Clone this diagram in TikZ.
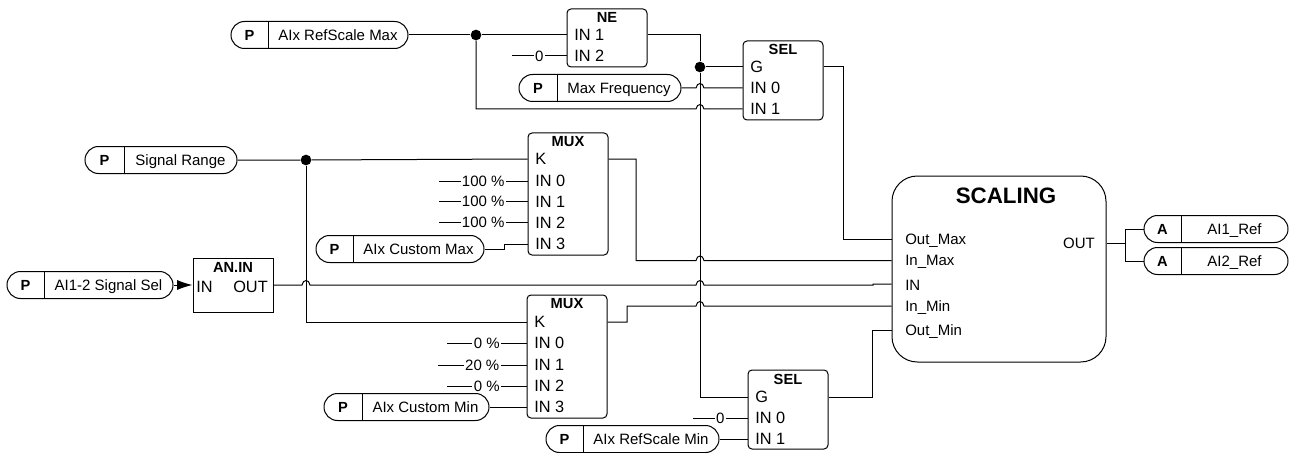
\documentclass[tikz,border=0pt]{standalone}
\usepackage{fontspec}
\setmainfont{Liberation Sans}
\usetikzlibrary{arrows.meta,shapes.misc}
\tikzset{
    wire/.style={line width=0.75pt},
    blockbox/.style={draw, line width=0.75pt, rounded corners=3pt, inner sep=0pt, minimum width=60pt},
    scalebox/.style={draw, line width=0.75pt, rounded corners=19pt, inner sep=0pt},
    pillbox/.style={draw, line width=0.75pt, rounded rectangle, inner sep=0pt, minimum height=20.25pt},
    porttext/.style={inner sep=0pt, text height=8pt, text depth=0pt},
    blockport/.style={inner sep=0pt, anchor=west, font=\fontsize{12.25}{14}\selectfont, text height=8.8pt, text depth=0pt},
    titletext/.style={porttext, font=\fontsize{11}{13}\selectfont\bfseries},
    consttext/.style={inner sep=1pt, fill=white, text height=8pt, text depth=0pt},
    junction/.style={circle, fill=black, inner sep=0pt, minimum size=8pt}
}
\newcommand{\hop}[2]{-- (#1-4,#2) .. controls (#1-3,#2-6) and (#1+3,#2-6) .. (#1+4,#2)}
\newcommand{\parambox}[7]{
    \node [pillbox, minimum width=(#4-#2)*0.75pt] (#1) at ({(#2+#4)/2},#5) {};
    \draw [wire] (#3,#5-13.5) -- (#3,#5+13.5);
    \node [titletext] (#1kind) at ({(#2+#3)/2},#5) {#6};
    \node [porttext] (#1text) at ({(#3+#4)/2},#5) {#7};
}
\begin{document}
\begin{tikzpicture}[x=0.75pt, y=-0.75pt, font=\fontsize{11.25}{13.5}\selectfont]
    \useasboundingbox (0,0) rectangle (1293,453);

    % parameters
    \parambox{refmax}{231}{268}{408}{35}{P}{AIx RefScale Max}
    \parambox{maxfreq}{519}{557}{681}{88}{P}{Max Frequency}
    \parambox{sigrange}{85}{124}{237}{160}{P}{Signal Range}
    \parambox{sigsel}{7}{44}{173}{285}{P}{AI1-2 Signal Sel}
    \parambox{custmax}{316}{353}{484}{249}{P}{AIx Custom Max}
    \parambox{custmin}{324}{362}{489}{407}{P}{AIx Custom Min}
    \parambox{refmin}{546}{583}{719}{439}{P}{AIx RefScale Min}
    \parambox{ref1}{1144}{1181}{1288}{229}{A}{AI1\_Ref}
    \parambox{ref2}{1144}{1181}{1288}{261}{A}{AI2\_Ref}

    % blocks
    \node [blockbox, minimum height=43.5pt] (ne) at (607,38) {};
    \node [titletext] (netitle) at (607,17) {NE};
    \node [blockport] (nein1) at (574,35) {IN 1};
    \node [blockport] (nein2) at (574,56) {IN 2};

    \node [blockbox, minimum height=59.25pt] (sela) at (783,80.5) {};
    \node [titletext] (selatitle) at (783,49) {SEL};
    \node [blockport] (selag) at (750,67) {G};
    \node [blockport] (selain0) at (750,88) {IN 0};
    \node [blockport] (selain1) at (750,109) {IN 1};

    \node [blockbox, minimum height=91.5pt] (muxa) at (568,194) {};
    \node [titletext] (muxatitle) at (568,141) {MUX};
    \node [blockport] (muxak) at (535,159) {K};
    \node [blockport] (muxain0) at (535,181) {IN 0};
    \node [blockport] (muxain1) at (535,201.5) {IN 1};
    \node [blockport] (muxain2) at (535,222.5) {IN 2};
    \node [blockport] (muxain3) at (535,244) {IN 3};

    \node [blockbox, minimum height=92.25pt] (muxb) at (567,356.5) {};
    \node [titletext] (muxbtitle) at (567,303) {MUX};
    \node [blockport] (muxbk) at (534,322) {K};
    \node [blockport] (muxbin0) at (534,343) {IN 0};
    \node [blockport] (muxbin1) at (534,365) {IN 1};
    \node [blockport] (muxbin2) at (534,386) {IN 2};
    \node [blockport] (muxbin3) at (534,407) {IN 3};

    \node [blockbox, minimum height=59.25pt] (selb) at (788,409.5) {};
    \node [titletext] (selbtitle) at (788,379) {SEL};
    \node [blockport] (selbg) at (755,397) {G};
    \node [blockport] (selbin0) at (755,418) {IN 0};
    \node [blockport] (selbin1) at (755,439) {IN 1};

    \node [blockbox, rounded corners=0pt, minimum height=40.5pt] (anin) at (233,285) {};
    \node [titletext] (anintitle) at (233,267) {AN.IN};
    \node [blockport] (aninin) at (196,287) {IN};
    \node [blockport, anchor=east] (aninout) at (268,287) {OUT};

    \node [scalebox, minimum width=160.5pt, minimum height=139.5pt] (scaling) at (999,269) {};
    \node [titletext, font=\fontsize{16.75}{20}\selectfont\bfseries, text height=12pt] (scalingtitle) at (1006,195) {SCALING};
    \node [porttext, anchor=west] (outmax) at (905,239) {Out\_Max};
    \node [porttext, anchor=west] (inmax) at (905,260.5) {In\_Max};
    \node [porttext, anchor=west] (scalein) at (905,285) {IN};
    \node [porttext, anchor=west] (inmin) at (905,306) {In\_Min};
    \node [porttext, anchor=west] (outmin) at (905,330) {Out\_Min};
    \node [porttext, anchor=east] (scaleout) at (1095,243) {OUT};

    % junctions and free ends
    \node [junction] (refdot) at (476,35) {};
    \node [junction] (gdot) at (700,67) {};
    \node [junction] (sigdot) at (306,160) {};
    \coordinate (nezero) at (512,56);
    \coordinate (muxa0) at (439,181);
    \coordinate (muxa1) at (439,201.5);
    \coordinate (muxa2) at (439,222.5);
    \coordinate (muxb0) at (447,343);
    \coordinate (muxb1) at (438,365);
    \coordinate (muxb2) at (447,386);
    \coordinate (selzero) at (693,418);

    % top part
    \draw [wire] (refmax.east) -- (refdot) -- (ne.west |- nein1);
    \draw [wire] (refdot) -- (refdot |- selain1) \hop{700}{109} -- (sela.west |- selain1);
    \draw [wire] (nezero) -- node [consttext] {0} (ne.west |- nein2);
    \draw [wire] (ne.east |- nein1) -- (gdot |- nein1) -- (gdot) -- (gdot |- selbg) -- (selb.west |- selbg);
    \draw [wire] (gdot) -- (sela.west |- selag);
    \draw [wire] (maxfreq.east) \hop{700}{88} -- (sela.west |- selain0);
    \draw [wire] (sela.east |- selag) -- (843,67) -- (843,239) -- (scaling.west |- outmax);

    % first mux
    \draw [wire] (sigrange.east) -- (sigdot) -- (muxa.west |- muxak);
    \draw [wire] (muxa0) -- node [consttext] {100 \%} (muxa.west |- muxain0);
    \draw [wire] (muxa1) -- node [consttext] {100 \%} (muxa.west |- muxain1);
    \draw [wire] (muxa2) -- node [consttext] {100 \%} (muxa.west |- muxain2);
    \draw [wire] (custmax.east) -- (504,249) -- (504,244) -- (muxa.west |- muxain3);
    \draw [wire] (muxa.east |- muxak) -- (636,159) -- (636,260.5) \hop{700}{260.5} -- (scaling.west |- inmax);

    % second mux
    \draw [wire] (sigdot) -- (sigdot |- muxbk) -- (muxb.west |- muxbk);
    \draw [wire] (muxb0) -- node [consttext] {0 \%} (muxb.west |- muxbin0);
    \draw [wire] (muxb1) -- node [consttext] {20 \%} (muxb.west |- muxbin1);
    \draw [wire] (muxb2) -- node [consttext] {0 \%} (muxb.west |- muxbin2);
    \draw [wire] (custmin.east) -- (muxb.west |- muxbin3);
    \draw [wire] (muxb.east |- muxbk) -- (627,322) -- (627,306) \hop{700}{306} -- (scaling.west |- inmin);

    % analogue input
    \draw [wire, -{Latex[length=11.5pt, width=7.5pt]}] (sigsel.east) -- (anin.west |- sigsel);
    \draw [wire] (anin.east |- sigsel) \hop{306}{285} \hop{700}{285} -- (873,285) -- (873,284) -- (scaling.west |- 873,284);

    % second sel
    \draw [wire] (selzero) -- node [consttext] {0} (selb.west |- selbin0);
    \draw [wire] (refmin.east) -- (selb.west |- selbin1);
    \draw [wire] (selb.east |- selbg) -- (872,397) -- (872,330) -- (scaling.west |- outmin);

    % outputs
    \draw [wire] (scaling.east |- scaleout) -- (1125,243) -- (1125,229) -- (ref1.west);
    \draw [wire] (1125,243) -- (1125,261) -- (ref2.west);
\end{tikzpicture}
\end{document}
